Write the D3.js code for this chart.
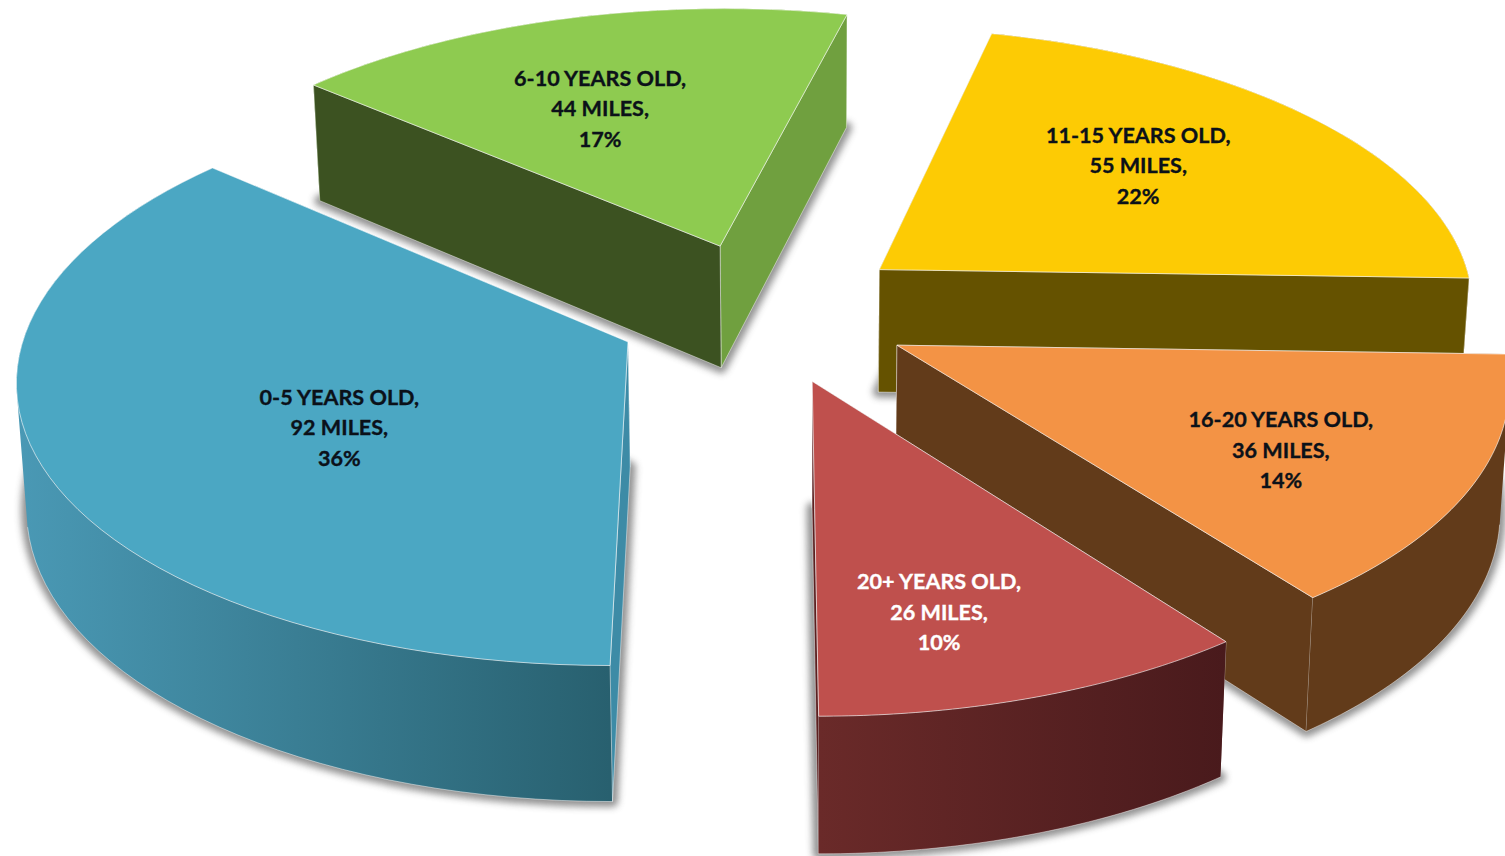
<!DOCTYPE html>
<html>
<head>
<meta charset="utf-8">
<title>Miles by age</title>
<script src="https://cdn.jsdelivr.net/npm/d3@7"></script>
<style>
html, body { margin: 0; padding: 0; background: #fff; overflow: hidden; }
svg { display: block; }
text { font-family: Lato, "Open Sans", sans-serif; font-weight: 700; }
</style>
</head>
<body>
<div id="stage"></div>
<script>
// values
var ageGroups = ["0-5 YEARS OLD", "6-10 YEARS OLD", "11-15 YEARS OLD", "16-20 YEARS OLD", "20+ YEARS OLD"];
var miles = [92, 44, 55, 36, 26];
var percents = [36, 17, 22, 14, 10];

// colours
var topColors = ["#4ba7c3", "#8ecb50", "#fdcb04", "#f39345", "#bf504d"];
var startWallColors = ["#3d8ba6", "#3c5221", "#655200", "#623b1a", "#4a1a1c"];
var endWallColors = ["#3d8ba6", "#70a03f", "#655200", "#623b1a", "#5a2020"];
var rimFrom = ["#4a99b5", "#70a03f", "#655200", "#623b1a", "#6a2a29"];
var rimTo = ["#28606f", "#70a03f", "#655200", "#623b1a", "#491a1c"];
var labelColors = ["#0b1119", "#0b1119", "#0b1119", "#0b1119", "#ffffff"];

// where each label sits inside its slice
var labelRadius = [0.526, 0.592, 0.61, 0.682, 0.731];
var labelTurn = [-8.4, -4, -3.8, 3.2, 4.4];

var W = 1505, H = 856;
var explodeU = 0.247, explodeV = 0.255;

// camera: plane coords (u right, v to the viewer), z = 0 top and 1 bottom
var X0 = 764, Y0 = 312, scaleU = 598, scaleV = 279, persp = 0.115, depth = 124, depthPersp = 0.08;
var squeeze = 0.013, squeezeX = 800;
function project(u, v, z) {
    var w = 1 - persp * v;
    var x = X0 + scaleU * u / w;
    return [x - (x - squeezeX) * squeeze * z, Y0 + scaleV * v / w + depth * z / (1 - depthPersp * v)];
}
function polar(a, r) { return [Math.sin(a) * r, -Math.cos(a) * r]; }

var pie = d3.pie().sort(null).startAngle(Math.PI).endAngle(3 * Math.PI);
var arcs = pie(miles);
var line = d3.line().curve(d3.curveLinear);

var svg = d3.select("#stage").append("svg").attr("width", W).attr("height", H);
var defs = svg.append("defs");
defs.append("filter").attr("id", "soft")
    .attr("x", "-10%").attr("y", "-10%").attr("width", "120%").attr("height", "120%")
    .append("feGaussianBlur").attr("stdDeviation", 3.5);

function sliceCentre(d) {
    var p = polar((d.startAngle + d.endAngle) / 2, 1);
    return [p[0] * explodeU, p[1] * explodeV];
}
// all quads wound the same way so the fold at the silhouette does not cancel out
function sweepPath(top, bottom) {
    var s = "";
    for (var k = 0; k < top.length - 1; k++) {
        var q = [top[k], top[k + 1], bottom[k + 1], bottom[k]];
        if (d3.polygonArea(q) < 0) q.reverse();
        s += line(q) + "Z";
    }
    return s;
}
// light edge only along the part of the rim that faces the viewer
function frontEdge(top, bottom) {
    var s = "";
    for (var k = 0; k < top.length - 1; k++) {
        if (d3.polygonArea([top[k], top[k + 1], bottom[k + 1], bottom[k]]) > 0) s += line([bottom[k], bottom[k + 1]]);
    }
    return s;
}

// painted back to front
var paintOrder = [1, 2, 0, 3, 4];

paintOrder.forEach(function(i) {
    var d = arcs[i];
    var c = sliceCentre(d);
    var steps = d3.range(0, 61).map(function(k) { return d.startAngle + (d.endAngle - d.startAngle) * k / 60; });
    var rim = steps.map(function(a) { var p = polar(a, 1); return [c[0] + p[0], c[1] + p[1]]; });
    var first = rim[0], last = rim[rim.length - 1];
    function at(z) { return function(p) { return project(p[0], p[1], z); }; }

    var g = svg.append("g").attr("class", "slice");

    // shadow comes from the bottom face only
    var bottom = [c].concat(rim).map(at(1));
    g.append("path").attr("d", line(bottom) + "Z")
        .attr("fill", "#4f4f4f").attr("stroke", "#4f4f4f").attr("stroke-width", 11)
        .attr("stroke-linejoin", "round").attr("opacity", 0.62).attr("filter", "url(#soft)");

    var rimTop = rim.map(at(0)), rimBottom = rim.map(at(1));
    var gradId = "rim" + i;
    var grad = defs.append("linearGradient").attr("id", gradId).attr("gradientUnits", "userSpaceOnUse")
        .attr("x1", d3.min(rimTop, function(p) { return p[0]; })).attr("y1", 0)
        .attr("x2", d3.max(rimTop, function(p) { return p[0]; })).attr("y2", 0);
    grad.append("stop").attr("offset", 0).attr("stop-color", rimFrom[i]);
    grad.append("stop").attr("offset", 1).attr("stop-color", rimTo[i]);

    function radial(p) { return [project(c[0], c[1], 0), project(p[0], p[1], 0), project(p[0], p[1], 1), project(c[0], c[1], 1)]; }
    var walls = [
        { path: sweepPath(rimTop, rimBottom), edge: frontEdge(rimTop, rimBottom), fill: "url(#" + gradId + ")", v: d3.mean(rim, function(p) { return p[1]; }) },
        { path: line(radial(first)) + "Z", edge: line(radial(first)) + "Z", fill: startWallColors[i], v: (c[1] + first[1]) / 2 },
        { path: line(radial(last)) + "Z", edge: line(radial(last)) + "Z", fill: endWallColors[i], v: (c[1] + last[1]) / 2 }
    ].sort(function(a, b) { return a.v - b.v; });

    walls.forEach(function(w) {
        g.append("path").attr("class", "wall").attr("d", w.path).attr("fill", w.fill);
        g.append("path").attr("class", "edge").attr("d", w.edge).attr("fill", "none")
            .attr("stroke", "#ffffff").attr("stroke-opacity", 0.5).attr("stroke-width", 0.9)
            .attr("stroke-linejoin", "round");
    });

    g.append("path").attr("class", "top")
        .attr("d", line([c].concat(rim).map(at(0))) + "Z")
        .attr("fill", topColors[i])
        .attr("stroke", "#ffffff").attr("stroke-opacity", 0.6).attr("stroke-width", 1)
        .attr("stroke-linejoin", "round");
});

// labels go on last, one line per field
arcs.forEach(function(d, i) {
    var mid = (d.startAngle + d.endAngle) / 2;
    var c = polar(mid, 0.26);
    var off = polar(mid + labelTurn[i] * Math.PI / 180, labelRadius[i]);
    var p = project(c[0] + off[0], c[1] + off[1], 0);
    var lines = [ageGroups[i] + ",", miles[i] + " MILES,", percents[i] + "%"];
    var t = svg.append("text").attr("text-anchor", "middle").attr("font-size", 21.6).attr("fill", labelColors[i])
        .attr("stroke", labelColors[i]).attr("stroke-width", 0.35);
    lines.forEach(function(s, k) {
        t.append("tspan").attr("x", p[0]).attr("y", p[1] + (k - 1) * 30.5 + 8).text(s);
    });
});
</script>
</body>
</html>
